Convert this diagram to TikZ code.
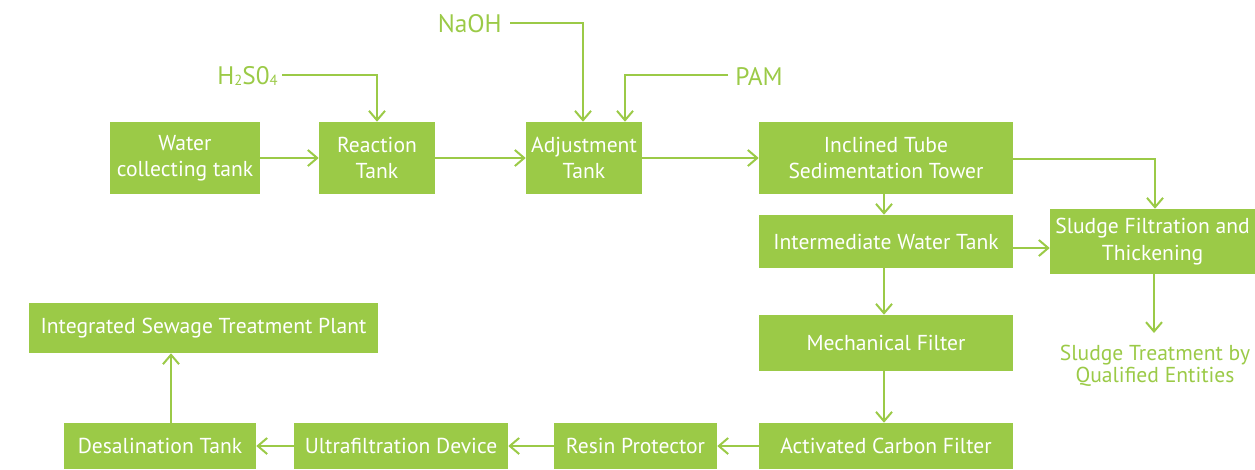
\documentclass[tikz,border=0pt]{standalone}
\usepackage{fontspec}
\setmainfont{PT Sans}
\usetikzlibrary{arrows.meta,positioning}
\definecolor{leaf}{HTML}{9BCA47}
\newcommand{\chemsub}[1]{\raisebox{-0.5pt}{\fontsize{11}{11}\selectfont #1}}
\begin{document}
\begin{tikzpicture}[x=0.75pt,y=-0.75pt,
  box/.style={fill=leaf,text=white,inner sep=0pt,align=center,font=\fontsize{16.2}{19.8}\selectfont},
  lbl/.style={text=leaf,inner sep=0pt,align=center,font=\fontsize{16.2}{16.5}\selectfont},
  chem/.style={text=leaf,inner sep=0pt,font=\fontsize{19}{20}\selectfont},
  flow/.style={draw=leaf,line width=1.5pt,-{Straight Barb[length=7pt,width=12pt,line width=1.5pt]}},
  plain/.style={draw=leaf,line width=1.5pt}]
\useasboundingbox (0,0) rectangle (1255,469);
% boxes
\node[box,minimum width=150*0.75pt,minimum height=72*0.75pt] (wct) at (185,158) {Water\\collecting tank};
\node[box,minimum width=116*0.75pt,minimum height=72*0.75pt] (rt) at (377,158) {Reaction\\Tank};
\node[box,minimum width=116*0.75pt,minimum height=72*0.75pt] (adj) at (584,158) {Adjustment\\Tank};
\node[box,minimum width=254*0.75pt,minimum height=72*0.75pt] (its) at (886,158) {Inclined Tube\\Sedimentation Tower};
\node[box,minimum width=254*0.75pt,minimum height=53*0.75pt] (iwt) at (886,241.5) {Intermediate Water Tank};
\node[box,minimum width=205*0.75pt,minimum height=65*0.75pt] (sft) at (1152.5,241.5) {Sludge Filtration and\\Thickening};
\node[box,minimum width=254*0.75pt,minimum height=56*0.75pt] (mf) at (886,343) {Mechanical Filter};
\node[box,minimum width=254*0.75pt,minimum height=46*0.75pt] (acf) at (886,446) {Activated Carbon Filter};
\node[box,minimum width=163*0.75pt,minimum height=46*0.75pt] (rp) at (635.5,446) {Resin Protector};
\node[box,minimum width=214*0.75pt,minimum height=46*0.75pt] (ufd) at (401,446) {Ultrafiltration Device};
\node[box,minimum width=192*0.75pt,minimum height=46*0.75pt] (dt) at (160,446) {Desalination Tank};
\node[box,minimum width=349*0.75pt,minimum height=50*0.75pt] (istp) at (203.5,328) {Integrated Sewage Treatment Plant};
% labels
\node[chem,anchor=east] (naoh) at (502,24) {NaOH};
\node[chem,anchor=east] (h2so4) at (278,76) {H\chemsub{2}S0\chemsub{4}};
\node[chem,anchor=west] (pam) at (735,76) {PAM};
\node[lbl] (stq) at (1155,366) {Sludge Treatment by\\Qualified Entities};
% helper coordinates
\coordinate (c1) at (583,23);
\coordinate (c2) at (377,75);
\coordinate (c3) at (625,75);
\coordinate (c4) at (1155,159);
% connectors
\draw[flow] ([xshift=6pt]naoh.east |- c1) -- (c1) -- (c1 |- adj.north);
\draw[flow] ([xshift=3pt]h2so4.east |- c2) -- (c2) -- (rt.north);
\draw[flow] ([xshift=-5pt]pam.west |- c3) -- (c3) -- (c3 |- adj.north);
\draw[flow] (wct) -- (rt);
\draw[flow] (rt) -- (adj);
\draw[flow] (adj) -- (its);
\draw[flow] (its.east |- c4) -- (c4) -- (c4 |- sft.north);
\draw[flow] (its.south -| 884,0) -- (iwt.north -| 884,0);
\draw[flow] (iwt.east |- 0,248) -- (sft.west |- 0,248);
\draw[flow] (iwt.south -| 884,0) -- (mf.north -| 884,0);
\draw[flow] (mf.south -| 884,0) -- (acf.north -| 884,0);
\draw[flow] (sft.south -| 1154,0) -- (1154,333) coordinate (c5);
\draw[flow] (acf) -- (rp);
\draw[flow] (rp) -- (ufd);
\draw[flow] (ufd) -- (dt);
\draw[flow] (dt.north -| 171,0) -- (istp.south -| 171,0);
\end{tikzpicture}
\end{document}
